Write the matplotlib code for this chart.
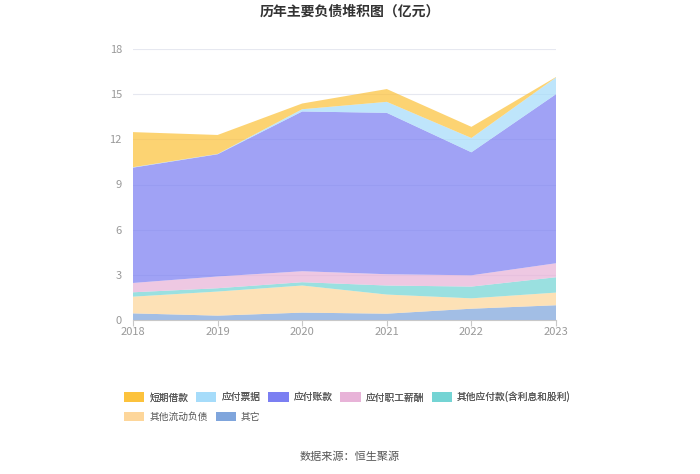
import matplotlib
matplotlib.use("Agg")
import matplotlib.pyplot as plt
from matplotlib.patches import Patch
import numpy as np

plt.rcParams['font.family'] = ['Noto Sans CJK SC', 'DejaVu Sans']

years = [2018, 2019, 2020, 2021, 2022, 2023]
series_names = ["短期借款", "应付票据", "应付账款", "应付职工薪酬",
                "其他应付款(含利息和股利)", "其他流动负债", "其它"]
other = [0.44, 0.29, 0.49, 0.42, 0.75, 0.98]
other_current = [1.11, 1.60, 1.80, 1.27, 0.69, 0.84]
other_payable = [0.29, 0.22, 0.22, 0.60, 0.78, 1.02]
payroll = [0.62, 0.78, 0.73, 0.75, 0.75, 0.93]
accounts_payable = [7.66, 8.12, 10.61, 10.72, 8.17, 11.23]
notes_payable = [0.03, 0.02, 0.15, 0.73, 0.95, 1.11]
short_loans = [2.33, 1.26, 0.38, 0.85, 0.74, 0.03]

colors = {
    "短期借款": "#fcc23c",
    "应付票据": "#a6dcfa",
    "应付账款": "#7b7ff2",
    "应付职工薪酬": "#e8b3d8",
    "其他应付款(含利息和股利)": "#74d4d4",
    "其他流动负债": "#fdd69a",
    "其它": "#7fa5dc",
}

# stack from bottom
stack_order = ["其它", "其他流动负债", "其他应付款(含利息和股利)", "应付职工薪酬",
               "应付账款", "应付票据", "短期借款"]
data = {
    "其它": other,
    "其他流动负债": other_current,
    "其他应付款(含利息和股利)": other_payable,
    "应付职工薪酬": payroll,
    "应付账款": accounts_payable,
    "应付票据": notes_payable,
    "短期借款": short_loans,
}

fig = plt.figure(figsize=(7.0, 4.74), dpi=100)
ax = fig.add_axes([133/700, 1 - 320/474, (556-133)/700, (320-49)/474])

ax.stackplot(years, [data[k] for k in stack_order],
             colors=[colors[k] for k in stack_order], alpha=0.72, linewidth=0)

ax.set_xlim(2018, 2023)
ax.set_ylim(0, 18)
ax.set_yticks(range(0, 19, 3))
ax.set_xticks(years)
ax.set_xticklabels([str(y) for y in years])
ax.grid(axis='y', color='#e6e8f0', linewidth=0.8)
ax.set_axisbelow(True)
for s in ['top', 'right', 'left']:
    ax.spines[s].set_visible(False)
ax.spines['bottom'].set_color('#c8c8c8')
ax.tick_params(axis='y', length=0, labelsize=8, labelcolor='#999999', pad=8)
ax.tick_params(axis='x', length=4, color='#c8c8c8', labelsize=8, labelcolor='#999999', pad=1)

fig.text(0.5, 1 - 12/474, "历年主要负债堆积图（亿元）", ha='center', va='center',
         fontsize=10, fontweight='bold', color='#333333')
fig.text(0.5, 1 - 457/474, "数据来源：恒生聚源", ha='center', va='center',
         fontsize=8, color='#555555')

legend_kw = dict(frameon=False, fontsize=7, handlelength=2.1, handleheight=1.1,
                 handletextpad=0.5, columnspacing=0.8, borderaxespad=0, borderpad=0,
                 labelcolor='#555555')
row1 = series_names[:5]
row2 = series_names[5:]
h1 = [Patch(facecolor=colors[n], edgecolor='none') for n in row1]
h2 = [Patch(facecolor=colors[n], edgecolor='none') for n in row2]
leg1 = fig.legend(h1, row1, loc='center left', bbox_to_anchor=(124/700, 1 - 397/474),
                  ncol=5, **legend_kw)
fig.add_artist(leg1)
leg2 = fig.legend(h2, row2, loc='center left', bbox_to_anchor=(124/700, 1 - 417/474),
                  ncol=2, **legend_kw)

fig.savefig("out.png", dpi=100)
